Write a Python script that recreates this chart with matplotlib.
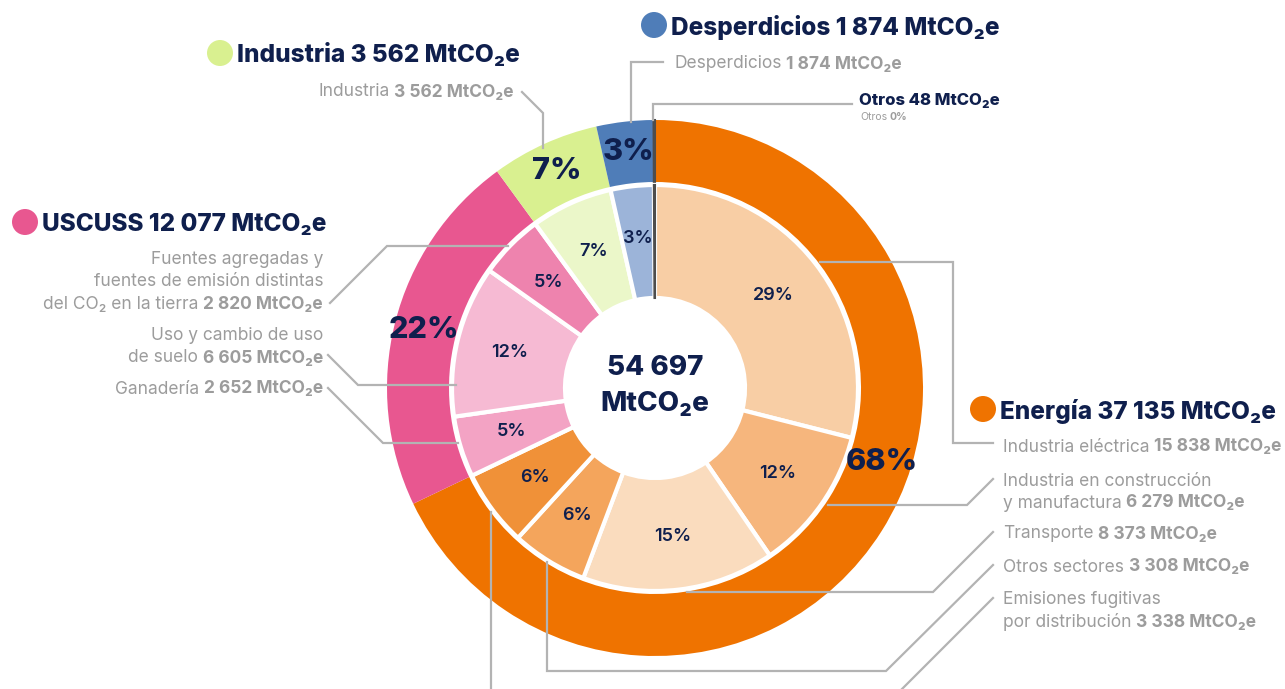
import matplotlib
matplotlib.use("Agg")
from matplotlib import pyplot as plt
from matplotlib.patches import Circle
import numpy as np

W, H = 1285, 689
NAVY = '#0f1f4d'
GRAY = '#9c9c9c'
LINE = '#b3b3b3'
FONT = ['Inter', 'DejaVu Sans']

# outer ring: sectors
sectors = ['Energía', 'USCUSS', 'Industria', 'Desperdicios', 'Otros']
sector_vals = [37135, 12077, 3562, 1874, 48]
sector_pct = ['68%', '22%', '7%', '3%', '']
sector_colors = ['#ef7300', '#e85790', '#d9f090', '#4f7db8', '#4d4d4d']

# inner ring: subsectors
subsectors = ['Industria eléctrica', 'Industria en construcción y manufactura', 'Transporte',
              'Otros sectores', 'Emisiones fugitivas por distribución', 'Ganadería',
              'Uso y cambio de uso de suelo', 'Fuentes agregadas', 'Industria', 'Desperdicios', 'Otros']
sub_vals = [15838, 6279, 8373, 3308, 3338, 2652, 6605, 2820, 3562, 1874, 48]
sub_pct = ['29%', '12%', '15%', '6%', '6%', '5%', '12%', '5%', '7%', '3%', '']
sub_colors = ['#f8cea5', '#f6b67d', '#fadcbe', '#f4a55c', '#f09138', '#f3a3c4',
              '#f6bad3', '#ee83ae', '#ebf7c9', '#9cb4d9', '#4d4d4d']

total = '54 697'


def Y(v):
    return H - v


fig = plt.figure(figsize=(12.85, 6.89), dpi=100)
ax = fig.add_axes([0, 0, 1, 1])
cx, cy = 655, Y(388)

w_out, _ = ax.pie(sector_vals, radius=268, center=(cx, cy), startangle=90, counterclock=False,
                  colors=sector_colors, wedgeprops=dict(width=62, linewidth=0))
w_out[-1].set_edgecolor('#4d4d4d')
w_out[-1].set_linewidth(1.5)

w_in, _ = ax.pie(sub_vals, radius=203, center=(cx, cy), startangle=90, counterclock=False,
                 colors=sub_colors, wedgeprops=dict(width=113, edgecolor='white', linewidth=3))
w_in[-1].set_edgecolor('#4d4d4d')
w_in[-1].set_linewidth(1.5)

ax.set_xlim(0, W)
ax.set_ylim(0, H)
ax.set_aspect('equal')
ax.axis('off')

# percentage labels
for i, wd in enumerate(w_out):
    if not sector_pct[i]:
        continue
    ang = np.deg2rad((wd.theta1 + wd.theta2) / 2)
    if i == 0:
        ang = np.deg2rad(-18)
    ax.text(cx + 238 * np.cos(ang), cy + 238 * np.sin(ang), sector_pct[i], ha='center', va='center',
            fontsize=22, fontweight='heavy', color=NAVY, family=FONT)
for i, wd in enumerate(w_in):
    if not sub_pct[i]:
        continue
    ang = np.deg2rad((wd.theta1 + wd.theta2) / 2)
    ax.text(cx + 150 * np.cos(ang), cy + 150 * np.sin(ang), sub_pct[i], ha='center', va='center',
            fontsize=13, fontweight='semibold', color=NAVY, family=FONT)

ax.text(cx, Y(368), total, ha='center', va='center', fontsize=20, fontweight='heavy', color=NAVY, family=FONT)
ax.text(cx, Y(404), 'MtCO₂e', ha='center', va='center', fontsize=20, fontweight='heavy', color=NAVY, family=FONT)

renderer = fig.canvas.get_renderer()


def mixed(x, y, parts, ha='left', size=12.5, color=GRAY):
    seq = parts if ha == 'left' else parts[::-1]
    cur = x
    gap = size * 1.39 * 0.27
    for txt, bold in seq:
        t = ax.text(cur, Y(y), txt, ha=ha, va='center_baseline', fontsize=size, color=color,
                    fontweight='bold' if bold else 'normal', family=FONT)
        bb = t.get_window_extent(renderer=renderer)
        cur = cur + bb.width + gap if ha == 'left' else cur - bb.width - gap


def header(x, y, label, color, size=17.5):
    ax.add_patch(Circle((x, Y(y)), 13, color=color, lw=0))
    ax.text(x + 17, Y(y), label, ha='left', va='center_baseline', fontsize=size, fontweight='heavy',
            color=NAVY, family=FONT)


def leader(pts):
    xs = [p[0] for p in pts]
    ys = [Y(p[1]) for p in pts]
    ax.plot(xs, ys, color=LINE, lw=1.6, solid_joinstyle='miter', zorder=5)


# headers
header(654, 25, 'Desperdicios 1 874 MtCO₂e', sector_colors[3])
header(220, 53, 'Industria 3 562 MtCO₂e', sector_colors[2])
header(25, 222, 'USCUSS 12 077 MtCO₂e', sector_colors[1])
header(983, 409, 'Energía 37 135 MtCO₂e', sector_colors[0])

ax.text(859, Y(99), 'Otros 48 MtCO₂e', ha='left', va='center_baseline', fontsize=12, fontweight='heavy',
        color=NAVY, family=FONT)
mixed(860, 116, [('Otros', False), ('0%', True)], size=7.5)

# top labels
mixed(674, 62, [('Desperdicios', False), ('1 874 MtCO₂e', True)])
leader([(631, 122), (631, 62), (663, 62)])
leader([(653, 120), (653, 104), (852, 104)])
mixed(514, 90, [('Industria', False), ('3 562 MtCO₂e', True)], ha='right')
leader([(543, 148), (543, 113), (522, 92)])

# left labels (USCUSS)
mixed(323, 258, [('Fuentes agregadas y', False)], ha='right')
mixed(323, 280, [('fuentes de emisión distintas', False)], ha='right')
mixed(323, 302, [('del CO₂ en la tierra', False), ('2 820 MtCO₂e', True)], ha='right')
leader([(508, 246), (387, 246), (330, 303)])
mixed(323, 334, [('Uso y cambio de uso', False)], ha='right')
mixed(323, 356, [('de suelo', False), ('6 605 MtCO₂e', True)], ha='right')
leader([(328, 355), (358, 385), (456, 385)])
mixed(323, 387, [('Ganadería', False), ('2 652 MtCO₂e', True)], ha='right')
leader([(328, 388), (383, 443), (458, 443)])

# right labels (Energía)
mixed(1003, 445, [('Industria eléctrica', False), ('15 838 MtCO₂e', True)])
leader([(820, 262), (953, 262), (953, 443), (993, 443)])
mixed(1003, 479, [('Industria en construcción', False)])
mixed(1003, 501, [('y manufactura', False), ('6 279 MtCO₂e', True)])
leader([(828, 505), (967, 505), (993, 479)])
mixed(1003, 532, [('Transporte', False), ('8 373 MtCO₂e', True)])
leader([(687, 592), (933, 592), (993, 532)])
mixed(1003, 565, [('Otros sectores', False), ('3 308 MtCO₂e', True)])
leader([(547, 562), (547, 671), (886, 671), (993, 565)])
mixed(1003, 597, [('Emisiones fugitivas', False)])
mixed(1003, 620, [('por distribución', False), ('3 338 MtCO₂e', True)])
leader([(491, 512), (491, 700)])
leader([(883, 708), (993, 598)])

fig.savefig('out.png', dpi=100)
